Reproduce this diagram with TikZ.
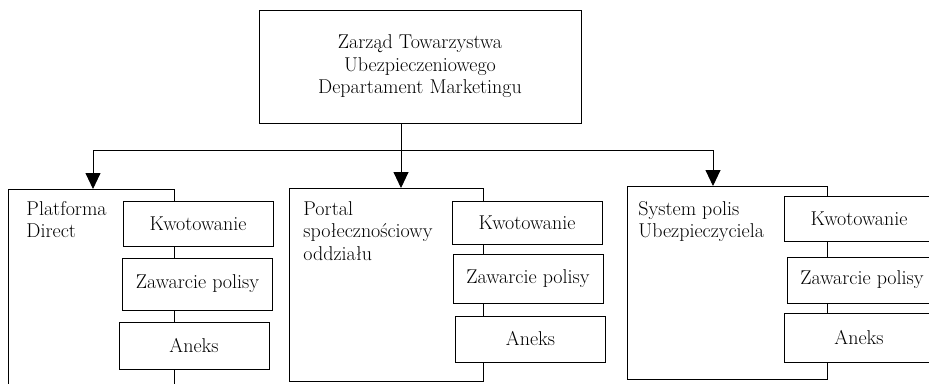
\documentclass[tikz,border=0pt]{standalone}
\usetikzlibrary{arrows.meta}
\begin{document}
\begin{tikzpicture}[x=1pt,y=-1pt, line width=0.9pt,
  every node/.style={font=\fontsize{20}{22.5}\selectfont},
  box/.style={draw, inner sep=0pt, outer sep=0pt},
  sub/.style={box, fill=white, minimum width=150pt, align=center},
  lbl/.style={inner sep=0pt, anchor=north west, align=left},
  arr/.style={-{Triangle[length=16pt,width=15pt]}}]
\useasboundingbox (0,0) rectangle (929,383);
\clip (0,0) rectangle (929,383);
% top box
\node[box, minimum width=322pt, minimum height=113pt, align=center, anchor=north west] (top) at (259,10)
  {Zarząd Towarzystwa\\Ubezpieczeniowego\\Departament Marketingu};
% containers
\node[box, minimum width=166pt, minimum height=215pt, anchor=north west] (c1) at (8,189) {};
\node[box, minimum width=194pt, minimum height=193pt, anchor=north west] (c2) at (289,188) {};
\node[box, minimum width=200pt, minimum height=193pt, anchor=north west] (c3) at (627,186) {};
% labels
\node[lbl] (l1) at (26,201) {Platforma\\Direct};
\node[lbl] (l2) at (303,201) {Portal\\społecznościowy\\oddziału};
\node[lbl] (l3) at (638,201) {System polis\\Ubezpieczyciela};
% sub boxes
\node[sub, minimum height=45pt] (k1) at (198,223.5) {Kwotowanie};
\node[sub, minimum height=52pt] (z1) at (197.5,284) {Zawarcie polisy};
\node[sub, minimum height=47pt] (a1) at (194,345.5) {Aneks};
\node[sub, minimum height=43pt] (k2) at (527,222.5) {Kwotowanie};
\node[sub, minimum height=49pt] (z2) at (528,278.5) {Zawarcie polisy};
\node[sub, minimum height=46pt] (a2) at (530.5,339) {Aneks};
\node[sub, minimum height=45pt] (k3) at (859,218.5) {Kwotowanie};
\node[sub, minimum height=46pt] (z3) at (862,280) {Zawarcie polisy};
\node[sub, minimum height=49pt] (a3) at (859,337.5) {Aneks};
% connectors
\coordinate (jm) at (401,150);
\coordinate (jl) at (93,150);
\coordinate (jr) at (713,150);
\draw[arr] (top.south -| jm) -- (jm |- c2.north);
\draw[arr] (jm) -- (jl) -- (jl |- c1.north);
\draw[arr] (jm) -- (jr) -- (jr |- c3.north);
\end{tikzpicture}
\end{document}
